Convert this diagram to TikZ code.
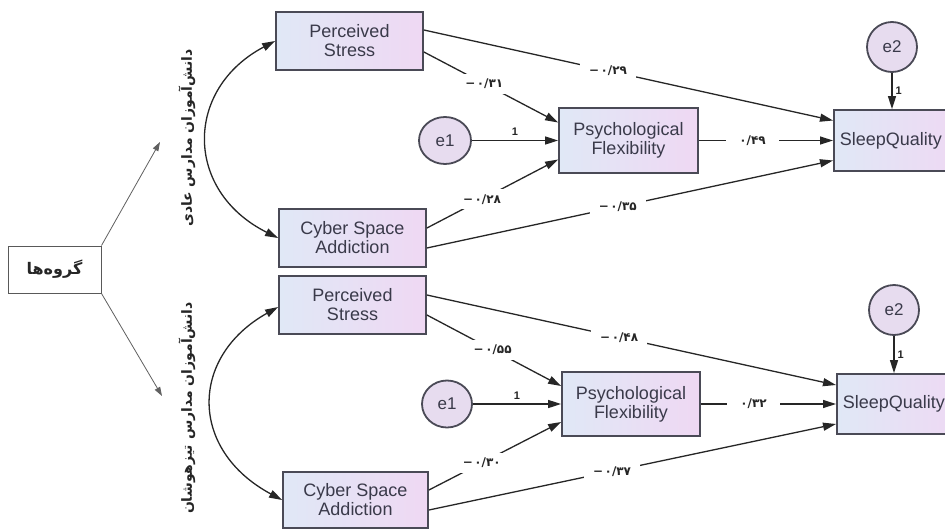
\documentclass[tikz,border=0pt]{standalone}
\usepackage{fontspec}
\setmainfont{Liberation Sans}
\newfontfamily\fa[Script=Arabic]{DejaVu Sans}
\newfontfamily\numf{DejaVu Sans}
\TeXXeTstate=1
\usetikzlibrary{arrows.meta,shapes.geometric}
\definecolor{boxL}{HTML}{E0E8F6}
\definecolor{boxR}{HTML}{EFD8F3}
\definecolor{ellF}{HTML}{E7DCEF}
\definecolor{edgec}{HTML}{4A4A56}
\definecolor{txt}{HTML}{3A3A4A}
\definecolor{ln}{HTML}{262626}
\newcommand{\cf}[2]{\hbox{#1}\kern1.5pt\hbox{#2}}
\begin{document}
\begin{tikzpicture}[x=1pt,y=-1pt,
  varbox/.style={draw=edgec, line width=1.8pt, left color=boxL, right color=boxR,
    inner sep=0pt, align=center, text=txt, font=\fontsize{18}{19}\selectfont},
  errc/.style={ellipse, draw=edgec, line width=1.8pt, fill=ellF, inner sep=0pt,
    text=txt, font=\fontsize{17}{17}\selectfont},
  arr/.style={draw=ln, line width=1.3pt, -{Triangle[length=13pt,width=8pt]}},
  dbl/.style={draw=ln, line width=1.3pt, {Triangle[length=13pt,width=8pt]}-{Triangle[length=13pt,width=8pt]}},
  thin/.style={draw=gray!75!black, line width=0.8pt, -{Triangle[length=9pt,width=6pt]}},
  coef/.style={fill=white, inner xsep=9pt, inner ysep=5pt, text=ln, font=\numf\bfseries\fontsize{12}{12}\selectfont},
  one/.style={text=ln, inner sep=1pt, font=\bfseries\fontsize{11}{11}\selectfont},
  grp/.style={font=\fa\bfseries\fontsize{14}{14}\selectfont, text=ln, rotate=90}
]
\fill[white] (0,0) rectangle (945,530);
\useasboundingbox (0,0) rectangle (945,530);

% groups
\node[draw=gray!70!black, line width=1pt, fill=white, minimum width=93pt, minimum height=47pt,
  font=\fa\bfseries\fontsize{16}{16}\selectfont, text=ln] (groups) at (54.5,269.5) {گروه‌ها};
\coordinate (up) at (160,142);
\coordinate (dn) at (162,396);
\draw[thin] (groups.north east) -- (up);
\draw[thin] (groups.south east) -- (dn);
\node[grp] (g1) at (187,138) {\beginR دانش‌آموزان مدارس عادی\endR};
\node[grp] (g2) at (187,408) {\beginR دانش‌آموزان مدارس تیزهوشان\endR};

% ---------- top model ----------
\node[varbox, minimum width=147pt, minimum height=58pt] (ps1) at (349.5,41) {Perceived\\Stress};
\node[varbox, minimum width=147pt, minimum height=58pt] (csa1) at (352.5,238) {Cyber Space\\Addiction};
\node[varbox, minimum width=139pt, minimum height=65pt] (pf1) at (628.5,140.5) {Psychological\\Flexibility};
\node[varbox, minimum width=130pt, minimum height=61pt, anchor=west] (sq1) at (833,140.5) {SleepQuality\hspace*{16pt}};
\node[errc, minimum width=52pt, minimum height=47pt] (e1a) at (445,140.5) {e1};
\node[errc, minimum width=50pt, minimum height=50pt] (e2a) at (892,47) {e2};

\draw[dbl] (ps1.west) .. controls +(-91,48) and +(-94,-47) .. (csa1.west);
\draw[arr] ([yshift=11pt]ps1.east) -- node[coef,pos=0.45]{\cf{−}{۰/۲۹}} ([yshift=20pt]sq1.west);
\draw[arr] ([yshift=-11pt]ps1.east) -- node[coef,pos=0.45]{\cf{−}{۰/۳۱}} ([yshift=18pt]pf1.west);
\draw[arr] ([yshift=10pt]csa1.east) -- node[coef,pos=0.42]{\cf{−}{۰/۲۸}} ([yshift=-19pt]pf1.west);
\draw[arr] ([yshift=-10pt]csa1.east) -- node[coef,pos=0.47]{\cf{−}{۰/۳۵}} ([yshift=-20pt]sq1.west);
\draw[arr] (pf1.east) -- node[coef,pos=0.4,inner xsep=13pt]{۰/۴۹} (sq1.west);
\draw[arr] (e1a.east) -- node[one,above=3pt]{1} (pf1.west);
\draw[arr] (e2a.south) -- node[one,right=2pt]{1} (e2a.south |- sq1.north);

% ---------- bottom model ----------
\node[varbox, minimum width=147pt, minimum height=58pt] (ps2) at (352.5,305) {Perceived\\Stress};
\node[varbox, minimum width=145pt, minimum height=56pt] (csa2) at (355.5,500) {Cyber Space\\Addiction};
\node[varbox, minimum width=138pt, minimum height=64pt] (pf2) at (631,404) {Psychological\\Flexibility};
\node[varbox, minimum width=130pt, minimum height=60pt, anchor=west] (sq2) at (836,404) {SleepQuality\hspace*{16pt}};
\node[errc, minimum width=50pt, minimum height=47pt] (e1b) at (447,404) {e1};
\node[errc, minimum width=50pt, minimum height=50pt] (e2b) at (894,310) {e2};

\draw[dbl] ([yshift=-2pt]ps2.west) .. controls +(-89,50) and +(-93,-50) .. (csa2.west);
\draw[arr] ([yshift=10pt]ps2.east) -- node[coef,pos=0.47]{\cf{−}{۰/۴۸}} ([yshift=19pt]sq2.west);
\draw[arr] ([yshift=-10pt]ps2.east) -- node[coef,pos=0.49]{\cf{−}{۰/۵۵}} ([yshift=18pt]pf2.west);
\draw[arr] ([yshift=10pt]csa2.east) -- node[coef,pos=0.40]{\cf{−}{۰/۳۰}} ([yshift=-18pt]pf2.west);
\draw[arr] ([yshift=-10pt]csa2.east) -- node[coef,pos=0.45]{\cf{−}{۰/۳۷}} ([yshift=-20pt]sq2.west);
\draw[arr] (pf2.east) -- node[coef,pos=0.39,inner xsep=13pt]{۰/۳۲} (sq2.west);
\draw[arr] (e1b.east) -- node[one,above=3pt]{1} (pf2.west);
\draw[arr] (e2b.south) -- node[one,right=2pt]{1} (e2b.south |- sq2.north);
\end{tikzpicture}
\end{document}
